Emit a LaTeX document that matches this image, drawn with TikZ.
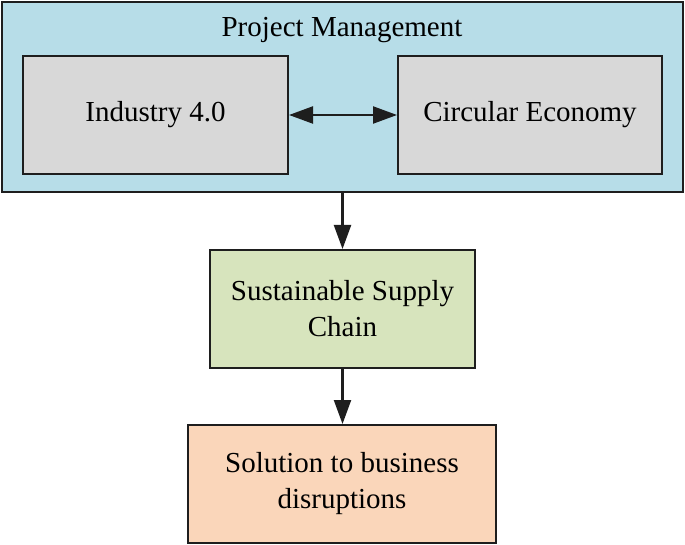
\documentclass[tikz,border=0pt]{standalone}
\usepackage{fontspec}
\setmainfont{Liberation Serif}
\usetikzlibrary{arrows.meta}
\definecolor{pmblue}{RGB}{183,221,232}
\definecolor{boxgray}{RGB}{216,216,216}
\definecolor{boxgreen}{RGB}{215,228,189}
\definecolor{boxpeach}{RGB}{250,214,186}
\definecolor{edge}{RGB}{30,30,30}
\tikzset{
  txt/.style={font=\fontsize{29}{36}\selectfont},
  blk/.style={draw=edge, line width=2pt, rectangle, inner sep=0pt, align=center, txt},
  conn/.style={draw=edge, line width=2.2pt, -{Triangle[length=24pt,width=17pt]}},
  biconn/.style={draw=edge, line width=2.2pt, {Triangle[length=24pt,width=17pt]}-{Triangle[length=24pt,width=17pt]}}
}
\begin{document}
\begin{tikzpicture}[x=1pt,y=-1pt]
\useasboundingbox (0,0) rectangle (685,545);
\node[blk, fill=pmblue, minimum width=681pt, minimum height=190pt] (pm) at (342.5,97) {};
\node[txt, anchor=base, inner sep=0pt] (title) at (342,37) {Project Management};
\node[blk, fill=boxgray, minimum width=265pt, minimum height=118pt] (ind) at (155.5,115) {Industry 4.0};
\node[blk, fill=boxgray, minimum width=264pt, minimum height=118pt] (ce) at (530,115) {Circular Economy};
\node[blk, fill=boxgreen, minimum width=265pt, minimum height=118pt] (ssc) at (342.5,309) {Sustainable Supply\\Chain};
\node[blk, fill=boxpeach, minimum width=308pt, minimum height=118pt] (sol) at (342,484) {Solution to business\\disruptions};
\draw[biconn] (ind.east) -- (ce.west);
\draw[conn] (pm.south -| ssc.north) -- (ssc.north);
\draw[conn] (ssc.south) -- (ssc.south |- sol.north);
\end{tikzpicture}
\end{document}
